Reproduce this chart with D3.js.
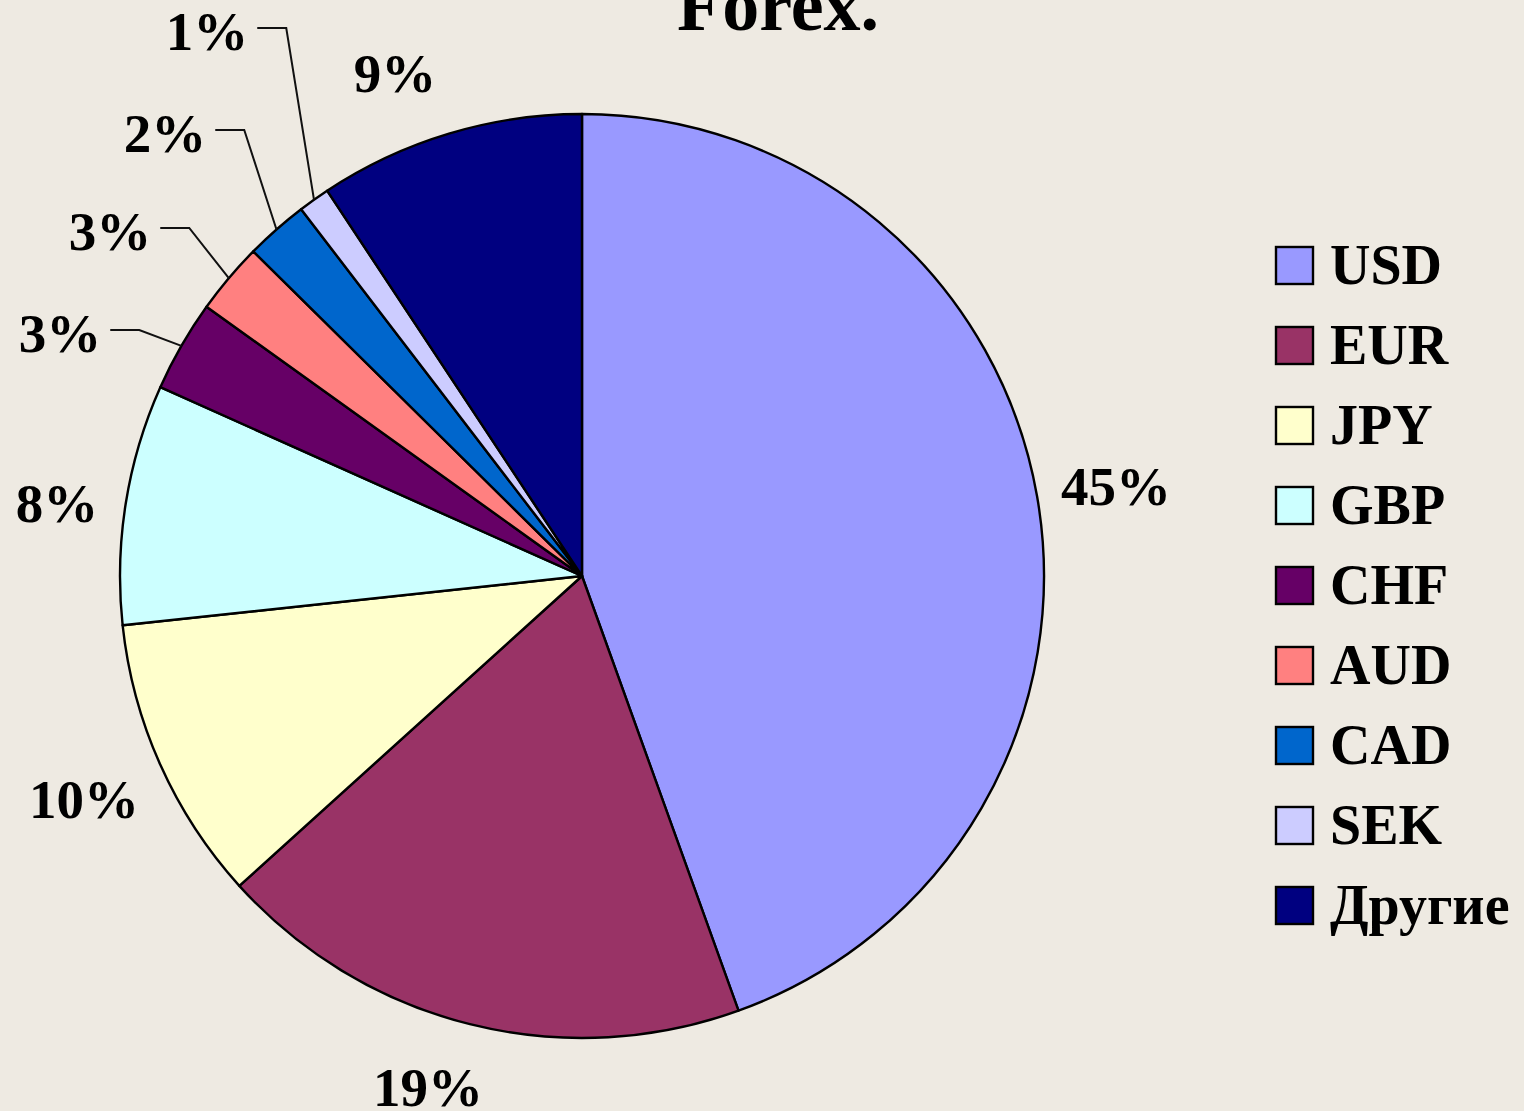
<!DOCTYPE html>
<html>
<head>
<meta charset="utf-8">
<script src="https://cdn.jsdelivr.net/npm/d3@7"></script>
<style>
  html, body { margin: 0; padding: 0; background: #eeeae2; }
  svg { display: block; }
</style>
</head>
<body>
<div id="chart"></div>
<script>
// currency shares of the Forex turnover, in %
var currencies = ["USD", "EUR", "JPY", "GBP", "CHF", "AUD", "CAD", "SEK", "Другие"];
var shares = [44.5, 18.8, 10, 8.4, 3.2, 2.5, 2.2, 1.1, 9.3];
var colors = ["#9999ff", "#993366", "#ffffcc", "#ccffff", "#660066",
              "#ff8080", "#0066cc", "#ccccff", "#000080"];

var width = 1524,
    height = 1111,
    cx = 582,
    cy = 576,
    r = 462;

// where Excel put each percent label (centre of the text, relative to the pie centre)
var labelOffset = [[534, -89], [-154, 512], [-498, 224], [-525, -72], [-522, -242],
                   [-472, -344], [-417, -442], [-375, -544], [-187, -502]];
// the small slices get a leader line
var withLeader = ["CHF", "AUD", "CAD", "SEK"];

var font = "'Liberation Serif', 'Times New Roman', serif";

var svg = d3.select("#chart").append("svg")
    .attr("width", width)
    .attr("height", height);

svg.append("rect")
    .attr("width", width)
    .attr("height", height)
    .attr("fill", "#eeeae2");

// title, cut off at the top of the slide
svg.append("text")
    .attr("x", 778)
    .attr("y", 30)
    .attr("text-anchor", "middle")
    .style("font-family", font)
    .style("font-weight", "bold")
    .style("font-size", "74px")
    .text("Forex.");

var data = currencies.map(function(c, i) {
  return {name: c, value: shares[i], color: colors[i], offset: labelOffset[i]};
});

var pie = d3.pie()
    .sort(null)
    .value(function(d) { return d.value; });

var arc = d3.arc()
    .innerRadius(0)
    .outerRadius(r);

var g = svg.append("g")
    .attr("transform", "translate(" + cx + "," + cy + ")");

var arcs = pie(data);

g.selectAll("path.slice")
    .data(arcs)
    .enter()
    .append("path")
    .attr("class", "slice")
    .attr("d", arc)
    .attr("fill", function(d) { return d.data.color; })
    .attr("stroke", "#000")
    .attr("stroke-width", 2.4)
    .attr("stroke-linejoin", "round");

// percent labels
var pct = function(v) { return Math.round(v) + "%"; };

var labels = g.selectAll("text.pct")
    .data(arcs)
    .enter()
    .append("text")
    .attr("class", "pct")
    .attr("x", function(d) { return d.data.offset[0]; })
    .attr("y", function(d) { return d.data.offset[1] + 18; })
    .attr("text-anchor", "middle")
    .style("font-family", font)
    .style("font-weight", "bold")
    .style("font-size", "55px")
    .text(function(d) { return pct(d.data.value); });

// leader lines: short horizontal tick after the label, then to the slice edge
labels.each(function(d) {
  if (withLeader.indexOf(d.data.name) < 0) return;
  var box = this.getBBox();
  var mid = (d.startAngle + d.endAngle) / 2;
  var x0 = box.x + box.width + 9,
      y0 = d.data.offset[1] - 4,
      x1 = x0 + 29;
  var edge = [Math.sin(mid) * r, -Math.cos(mid) * r];
  g.append("path")
      .attr("d", d3.line()([[x0, y0], [x1, y0], edge]))
      .attr("fill", "none")
      .attr("stroke", "#111")
      .attr("stroke-width", 2);
});

// legend
var legend = svg.append("g")
    .attr("transform", "translate(1275,265)");

var item = legend.selectAll("g")
    .data(data)
    .enter()
    .append("g")
    .attr("transform", function(d, i) { return "translate(0," + (i * 80) + ")"; });

item.append("rect")
    .attr("x", 1)
    .attr("y", -18)
    .attr("width", 37)
    .attr("height", 37)
    .attr("fill", function(d) { return d.color; })
    .attr("stroke", "#000")
    .attr("stroke-width", 2.4);

item.append("text")
    .attr("x", 55)
    .attr("y", 19)
    .style("font-family", font)
    .style("font-weight", "bold")
    .style("font-size", "56px")
    .text(function(d) { return d.name; });
</script>
</body>
</html>
